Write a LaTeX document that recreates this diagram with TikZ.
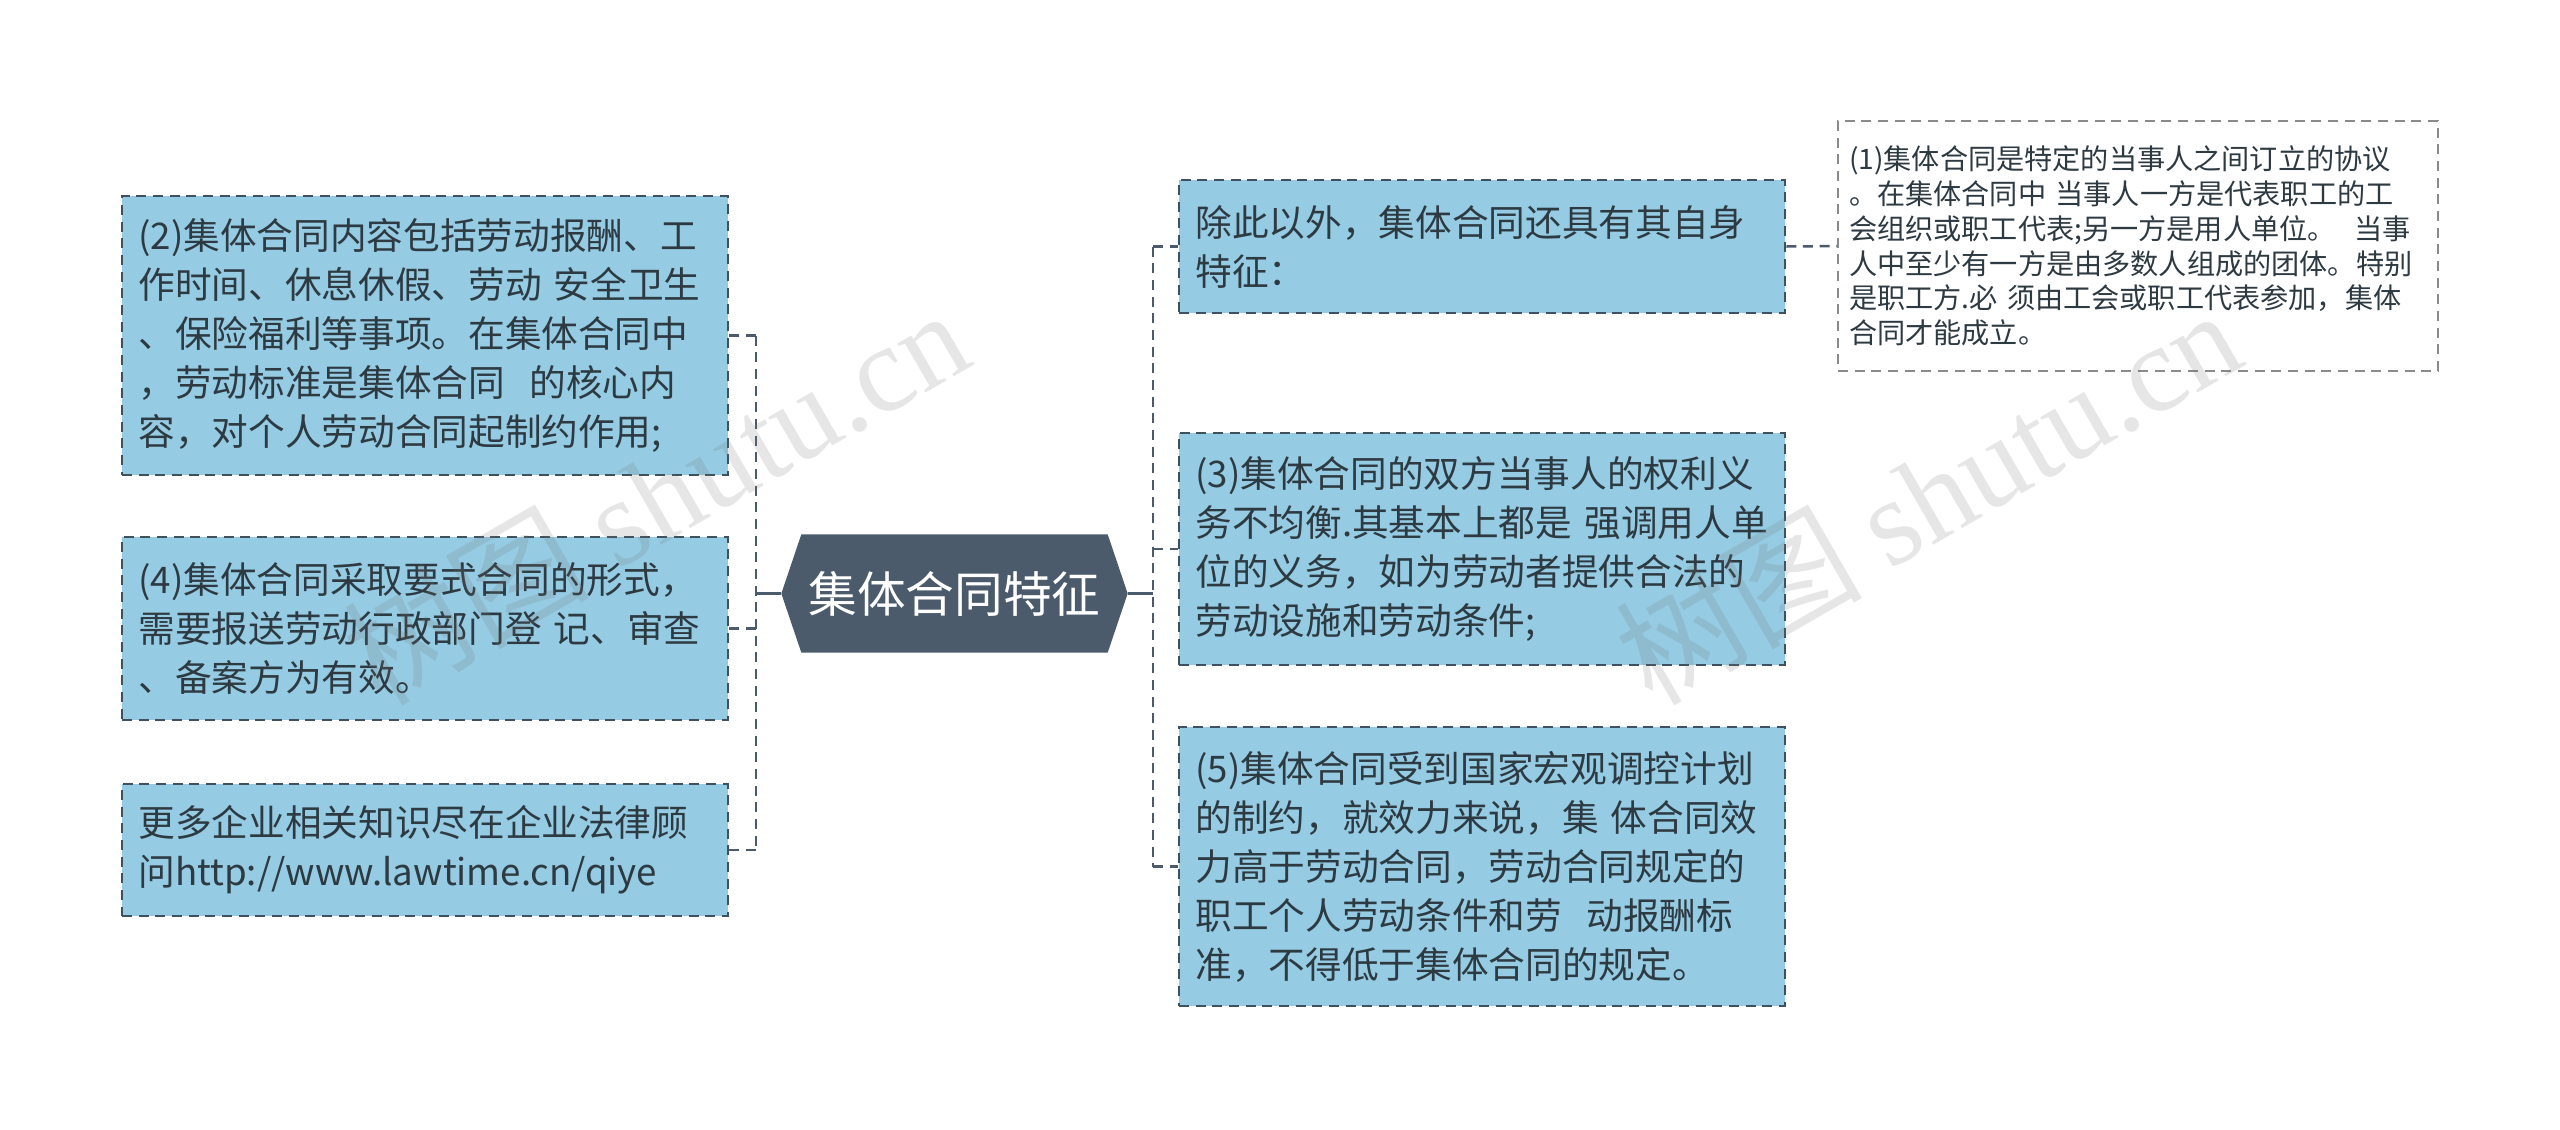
\documentclass[tikz,border=0pt]{standalone}
\usepackage{fontspec}
\setmainfont{Noto Sans CJK SC}
\newfontfamily\wmserif{Liberation Serif}
\definecolor{boxfill}{HTML}{95CBE3}
\definecolor{bord}{HTML}{3F505E}
\definecolor{hexfill}{HTML}{4B5B6B}
\definecolor{txt}{HTML}{2E3A42}
\definecolor{lightbord}{HTML}{8A8A8A}
\pgfdeclarelayer{bg}
\pgfsetlayers{bg,main}
\begin{document}
\begin{tikzpicture}[x=0.3pt,y=-0.3pt,
  box/.style={draw=bord, line width=0.75pt, dash pattern=on 3pt off 2pt,
    fill=boxfill, text=txt, font=\fontsize{11}{14.7}\selectfont,
    align=left, text width=172pt, inner xsep=4.9pt, inner ysep=0pt,
    minimum width=181.8pt},
  notebox/.style={draw=lightbord, line width=0.6pt, dash pattern=on 3pt off 2pt,
    fill=white, text=txt, font=\fontsize{8.45}{10.45}\selectfont,
    align=left, text width=173.4pt, inner xsep=3.3pt, inner ysep=0pt,
    minimum width=180pt},
  hexnode/.style={text=white, font=\fontsize{14.6}{17}\selectfont,
    minimum width=103.5pt, minimum height=35.1pt, inner sep=0pt},
  link/.style={draw=hexfill, line width=0.75pt},
  dlink/.style={draw=hexfill, line width=0.75pt, dash pattern=on 3pt off 2pt},
  wm/.style={text=black!55, opacity=0.18, font=\fontsize{37}{40}\selectfont}]
\useasboundingbox (0,0) rectangle (2560,1129);

% center
\node[hexnode] (c) at (954.5,593.5) {集体合同特征};
\begin{pgfonlayer}{bg}
\fill[hexfill] (c.west) -- ([xshift=6pt]c.north west) -- ([xshift=-6pt]c.north east)
  -- (c.east) -- ([xshift=-6pt]c.south east) -- ([xshift=6pt]c.south west) -- cycle;
\end{pgfonlayer}

% left boxes
\node[box, minimum height=83.7pt] (b2) at (425,335.5)
 {(2)集体合同内容包括劳动报酬、工\\作时间、休息休假、劳动 安全卫生\\、保险福利等事项。在集体合同中\\，劳动标准是集体合同\ \ 的核心内\\容，对个人劳动合同起制约作用;};
\node[box, minimum height=54.9pt] (b4) at (425,628.5)
 {(4)集体合同采取要式合同的形式，\\需要报送劳动行政部门登 记、审查\\、备案方为有效。};
\node[box, minimum height=39.6pt] (bm) at (425,850)
 {更多企业相关知识尽在企业法律顾\\问http://www.lawtime.cn/qiye};

% right boxes
\node[box, minimum height=39.9pt] (bA) at (1482,246.5)
 {除此以外，集体合同还具有其自身\\特征：};
\node[box, minimum height=69.6pt] (b3) at (1482,549)
 {(3)集体合同的双方当事人的权利义\\务不均衡.其基本上都是 强调用人单\\位的义务，如为劳动者提供合法的\\劳动设施和劳动条件;};
\node[box, minimum height=83.7pt] (b5) at (1482,866.5)
 {(5)集体合同受到国家宏观调控计划\\的制约，就效力来说，集 体合同效\\力高于劳动合同，劳动合同规定的\\职工个人劳动条件和劳\ \ 动报酬标\\准，不得低于集体合同的规定。};
\node[notebox, minimum height=75pt] (b1) at (2138,246)
 {(1)集体合同是特定的当事人之间订立的协议\\。在集体合同中 当事人一方是代表职工的工\\会组织或职工代表;另一方是用人单位。\ \ 当事\\人中至少有一方是由多数人组成的团体。特别\\是职工方.必 须由工会或职工代表参加，集体\\合同才能成立。};

% connectors left
\coordinate (lb) at (756,593.5);
\draw[link] (c.west) -- (lb);
\draw[dlink] (lb |- b2.east) -- (lb |- bm.east);
\draw[dlink] (lb |- b2.east) -- (b2.east);
\draw[dlink] (lb |- b4.east) -- (b4.east);
\draw[dlink] (lb |- bm.east) -- (bm.east);

% connectors right
\coordinate (rb) at (1153,593.5);
\draw[link] (c.east) -- (rb);
\draw[dlink] (rb |- bA.west) -- (rb |- b5.west);
\draw[dlink] (rb |- bA.west) -- (bA.west);
\draw[dlink] (rb |- b3.west) -- (b3.west);
\draw[dlink] (rb |- b5.west) -- (b5.west);
\draw[dlink] (bA.east) -- (b1.west);

% watermarks
\node[wm, rotate=30] (wm1) at (655,495) {树图 {\wmserif shutu.cn}};
\node[wm, rotate=30] (wm2) at (1927,495) {树图 {\wmserif shutu.cn}};
\end{tikzpicture}
\end{document}
